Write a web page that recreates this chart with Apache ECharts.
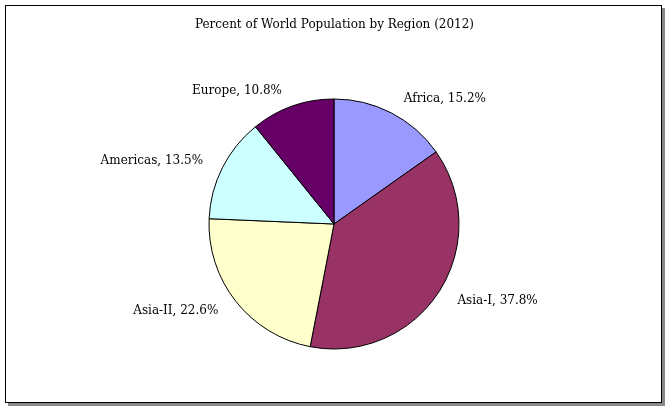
<!DOCTYPE html>
<html><head><meta charset="utf-8">
<script src="https://cdn.jsdelivr.net/npm/echarts@6/dist/echarts.min.js"></script>
<style>body{margin:0;background:#fff}#c{width:669px;height:411px}
#f{position:absolute;left:5px;top:5px;width:655px;height:396px;border:1px solid #000;box-shadow:3px 3px 0 #888;}</style>
</head><body><div id="f"></div><div id="c" style="position:absolute;left:0;top:0"></div>
<script>
const categories=['Africa','Asia-I','Asia-II','Americas','Europe'];
const values=[15.2,37.8,22.6,13.5,10.8];
const colors=['#9999FF','#993366','#FFFFCC','#CCFFFF','#660066'];
const chart=echarts.init(document.getElementById('c'));
chart.setOption({
 title:{text:'Percent of World Population by Region (2012)',left:'center',top:14,textStyle:{fontFamily:'DejaVu Serif',fontSize:12,fontWeight:'normal',color:'#000'}},
 series:[{type:'pie',center:[334,224],radius:125,startAngle:90,clockwise:true,animation:false,
  itemStyle:{borderColor:'#000',borderWidth:1},
  label:{show:true,position:'outside',formatter:p=>p.name+', '+p.value.toFixed(1)+'%',fontFamily:'DejaVu Serif',fontSize:12,color:'#000'},
  labelLine:{show:false,length:16,length2:0},
  data:categories.map((c,i)=>({name:c,value:values[i],itemStyle:{color:colors[i]}}))}]
});
</script></body></html>
